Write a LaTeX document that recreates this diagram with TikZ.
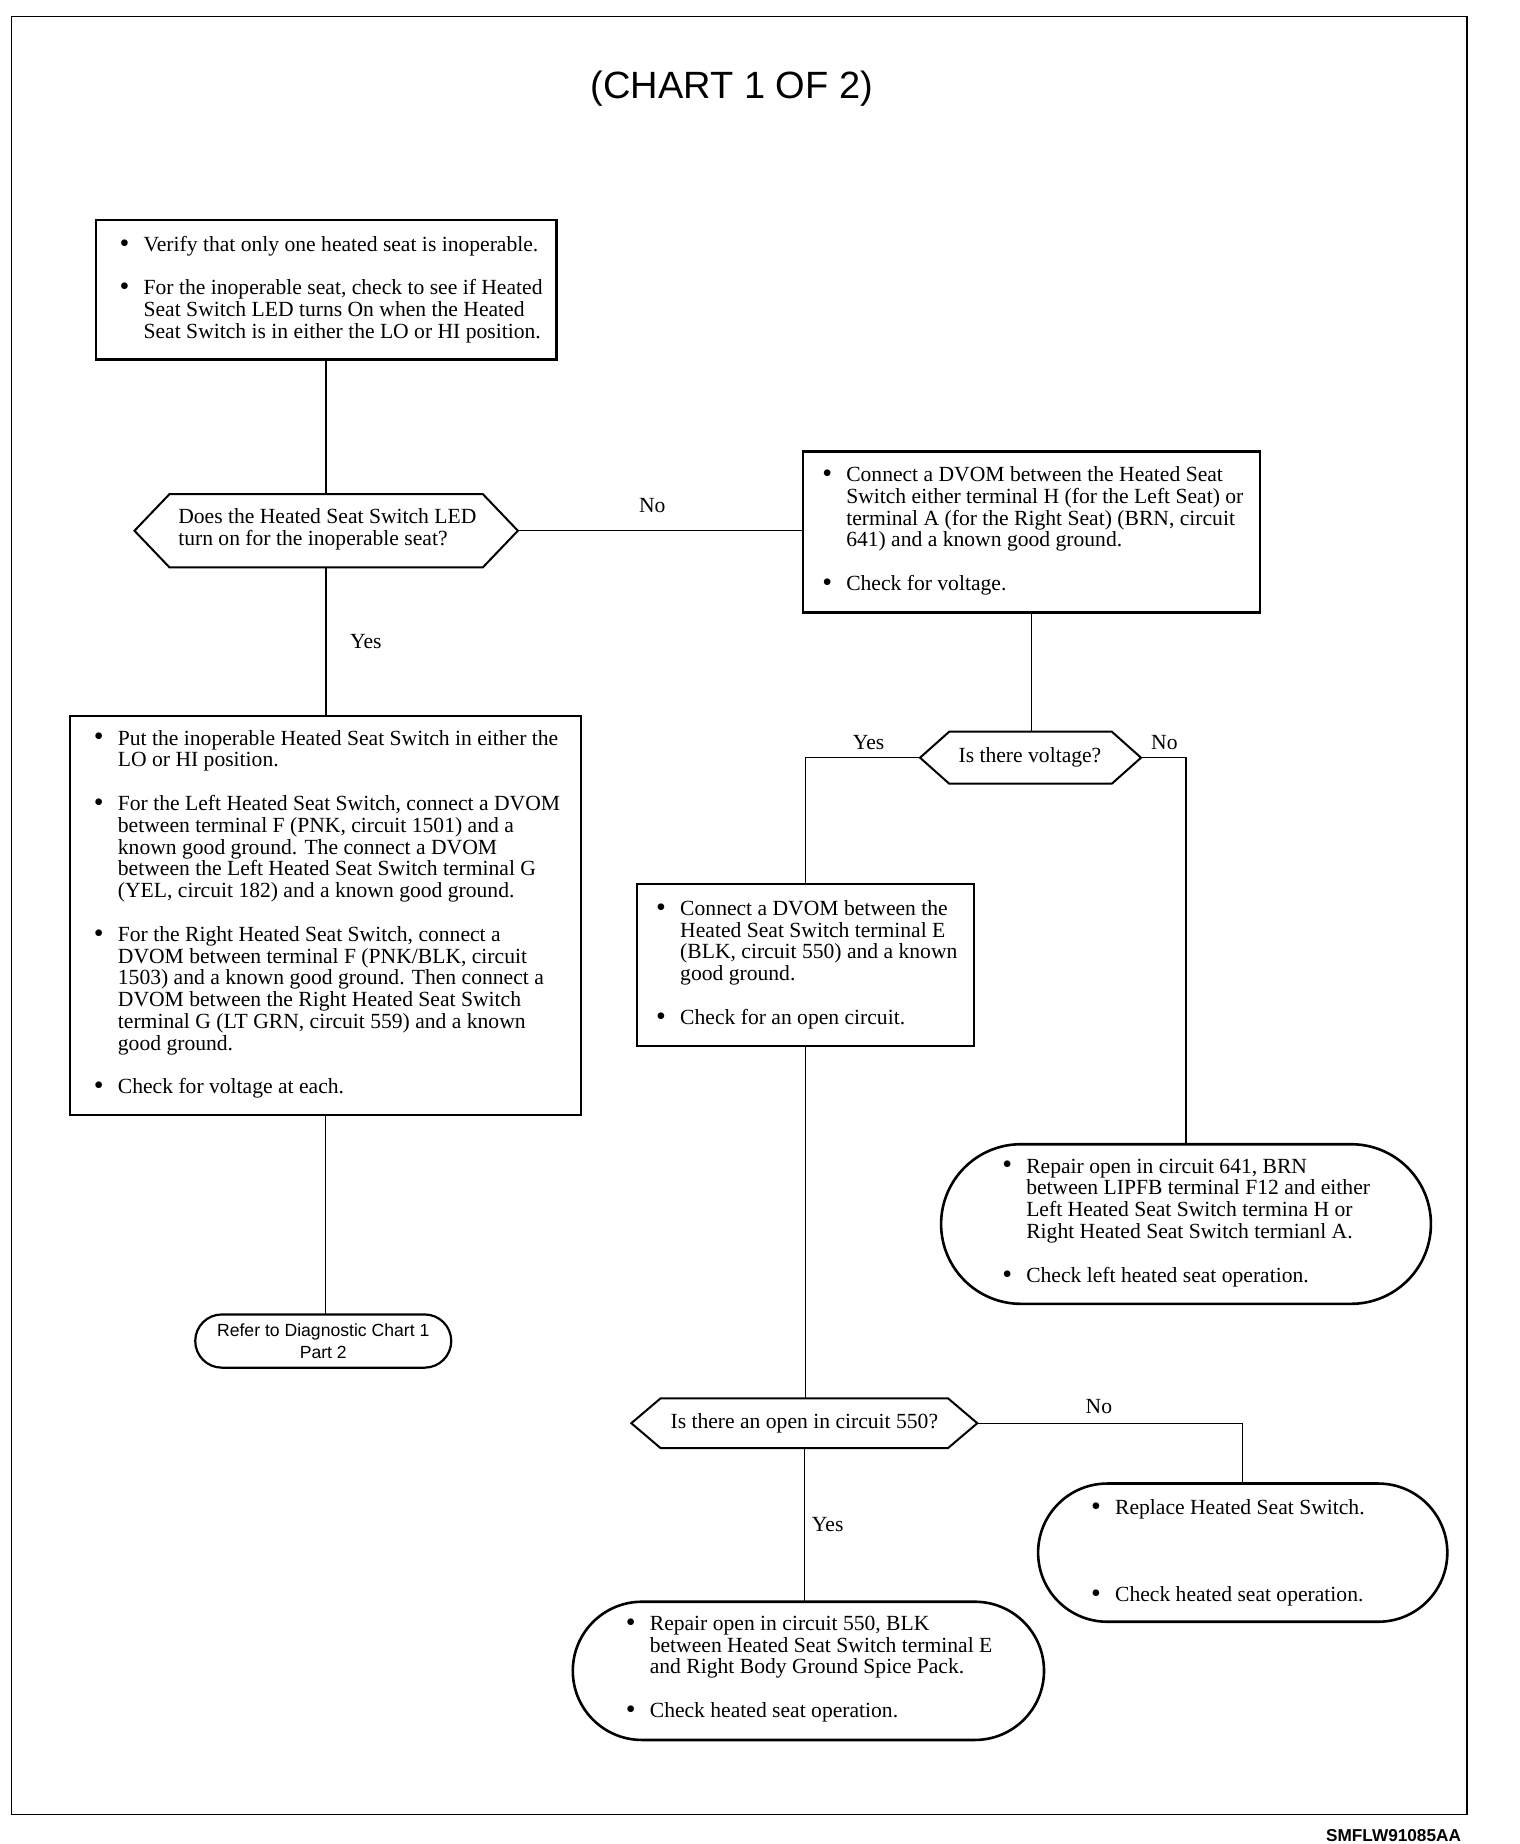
\documentclass[tikz,border=0pt]{standalone}
\usepackage{fontspec}
\setmainfont{Liberation Serif}
\newfontfamily\sansf{Liberation Sans}
\usetikzlibrary{shapes.misc}
\newcommand\myb{\makebox[12pt][l]{\raisebox{-0.4pt}{\fontsize{14}{10}\selectfont\textbullet}}}
\newcommand\myi{\hspace*{12pt}}
\tikzset{
  boxnode/.style={draw, line width=1.2pt, rectangle, outer sep=0pt, inner sep=0pt},
  roundnode/.style={draw, line width=1.3pt, rounded rectangle, outer sep=0pt, inner sep=0pt},
  hexnode/.style={rectangle, outer sep=0pt, inner sep=0pt},
  hexline/.style={line width=1.0pt, line join=miter},
  txt/.style={font=\fontsize{10.8}{10.9}\selectfont, align=left, inner sep=0pt, anchor=west},
  ctxt/.style={font=\fontsize{10.8}{10.9}\selectfont, align=left, inner sep=0pt},
  lbl/.style={font=\fontsize{10.8}{10.9}\selectfont, inner sep=0pt},
  conn/.style={line width=0.7pt},
  frame/.style={line width=0.7pt}
}
\begin{document}
\begin{tikzpicture}[x=0.5845pt, y=-0.591pt]
\useasboundingbox (0,0) rectangle (1300,1560);
\fill[white] (0,0) rectangle (1300,1560);
\draw[frame] (10,14) rectangle (1255,1535);

\node[inner sep=0pt, font=\sansf\fontsize{19}{22}\selectfont] (title) at (626,75) {(CHART 1 OF 2)};
\node[inner sep=0pt, anchor=east, font=\sansf\bfseries\fontsize{8.6}{10}\selectfont] (code) at (1250,1553) {SMFLW91085AA};

% shapes
\node[boxnode, minimum width=230.3pt, minimum height=69.7pt] (b1) at (279,245) {};
\node[hexnode, minimum width=191.7pt, minimum height=36.6pt] (d1) at (279,449) {};
\node[boxnode, minimum width=228.5pt, minimum height=80.4pt] (b2) at (882.5,450) {};
\node[boxnode, minimum width=255.4pt, minimum height=199.2pt] (b3) at (278.5,774.5) {};
\node[roundnode, line width=1.1pt, minimum width=128pt, minimum height=26.6pt] (refer) at (276.5,1134.5) {};
\node[hexnode, minimum width=110.5pt, minimum height=26pt] (d2) at (881.5,641) {};
\node[boxnode, minimum width=168.3pt, minimum height=81pt] (b4) at (689,816.5) {};
\node[roundnode, minimum width=244.9pt, minimum height=79.8pt] (r641) at (1014.5,1035.5) {};
\node[hexnode, minimum width=173pt, minimum height=24.8pt] (d3) at (688,1204) {};
\node[roundnode, minimum width=204.6pt, minimum height=69.1pt] (rep) at (1063,1313.5) {};
\node[roundnode, minimum width=235.6pt, minimum height=69.1pt] (r550) at (691.5,1413.5) {};

\draw[hexline] (d1.west) -- ([xshift=17.5pt]d1.north west) -- ([xshift=-17.5pt]d1.north east) -- (d1.east) -- ([xshift=-17.5pt]d1.south east) -- ([xshift=17.5pt]d1.south west) -- cycle;
\draw[hexline] (d2.west) -- ([xshift=14.6pt]d2.north west) -- ([xshift=-14.6pt]d2.north east) -- (d2.east) -- ([xshift=-14.6pt]d2.south east) -- ([xshift=14.6pt]d2.south west) -- cycle;
\draw[hexline] (d3.west) -- ([xshift=14.6pt]d3.north west) -- ([xshift=-14.6pt]d3.north east) -- (d3.east) -- ([xshift=-14.6pt]d3.south east) -- ([xshift=14.6pt]d3.south west) -- cycle;

% texts
\node[txt] (t1) at (102,245) {\myb Verify that only one heated seat is inoperable.\\[10.9pt]
\myb For the inoperable seat, check to see if Heated\\
\myi Seat Switch LED turns On when the Heated\\
\myi Seat Switch is in either the LO or HI position.};

\node[ctxt] (td1) at (280,448) {Does the Heated Seat Switch LED\\turn on for the inoperable seat?};

\node[txt] (t2) at (703,449) {\myb Connect a DVOM between the Heated Seat\\
\myi Switch either terminal H (for the Left Seat) or\\
\myi terminal A (for the Right Seat) (BRN, circuit\\
\myi 641) and a known good ground.\\[10.9pt]
\myb Check for voltage.};

\node[txt] (t3) at (80,773.5) {\myb Put the inoperable Heated Seat Switch in either the\\
\myi LO or HI position.\\[10.9pt]
\myb For the Left Heated Seat Switch, connect a DVOM\\
\myi between terminal F (PNK, circuit 1501) and a\\
\myi known good ground. The connect a DVOM\\
\myi between the Left Heated Seat Switch terminal G\\
\myi (YEL, circuit 182) and a known good ground.\\[10.9pt]
\myb For the Right Heated Seat Switch, connect a\\
\myi DVOM between terminal F (PNK/BLK, circuit\\
\myi 1503) and a known good ground. Then connect a\\
\myi DVOM between the Right Heated Seat Switch\\
\myi terminal G (LT GRN, circuit 559) and a known\\
\myi good ground.\\[10.9pt]
\myb Check for voltage at each.};

\node[inner sep=0pt, align=center, font=\sansf\fontsize{8.8}{11.2}\selectfont] (trefer) at (refer) {Refer to Diagnostic Chart 1\\Part 2};

\node[ctxt] (td2) at (881,641) {Is there voltage?};

\node[txt] (t4) at (561,816) {\myb Connect a DVOM between the\\
\myi Heated Seat Switch terminal E\\
\myi (BLK, circuit 550) and a known\\
\myi good ground.\\[10.9pt]
\myb Check for an open circuit.};

\node[txt] (t641) at (857,1034.5) {\myb Repair open in circuit 641, BRN\\
\myi between LIPFB terminal F12 and either\\
\myi Left Heated Seat Switch termina H or\\
\myi Right Heated Seat Switch termianl A.\\[10.9pt]
\myb Check left heated seat operation.};

\node[ctxt] (td3) at (688,1204) {Is there an open in circuit 550?};

\node[txt] (trep) at (933,1313.5) {\myb Replace Heated Seat Switch.\\[32.7pt]
\myb Check heated seat operation.};

\node[txt] (t550) at (535,1412) {\myb Repair open in circuit 550, BLK\\
\myi between Heated Seat Switch terminal E\\
\myi and Right Body Ground Spice Pack.\\[10.9pt]
\myb Check heated seat operation.};

% labels
\node[lbl] (l1) at (558,428) {No};
\node[lbl] (l2) at (313,543) {Yes};
\node[lbl] (l3) at (743,628) {Yes};
\node[lbl] (l4) at (996,628) {No};
\node[lbl] (l5) at (940,1190) {No};
\node[lbl] (l6) at (708,1290) {Yes};

% connectors
\draw[conn] (b1.south) -- (b1.south |- d1.north);
\draw[conn] (d1.east) -- (d1.east -| b2.west);
\draw[conn] (d1.south) -- (d1.south |- b3.north);
\draw[conn] (b3.south) -- (b3.south |- refer.north);
\draw[conn] (b2.south) -- (b2.south |- d2.north);
\draw[conn] (d2.west) -| (b4.north);
\draw[conn] (d2.east) -| (r641.north);
\draw[conn] (b4.south) -- (b4.south |- d3.north);
\draw[conn] (d3.east) -| (rep.north);
\draw[conn] (d3.south) -- (d3.south |- r550.north);
\end{tikzpicture}
\end{document}
